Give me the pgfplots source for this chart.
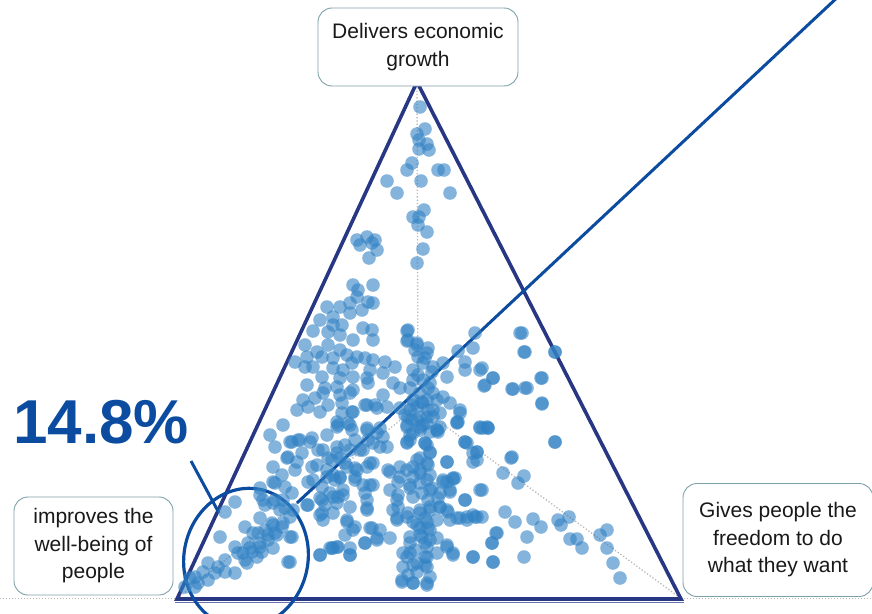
\documentclass[border=0pt]{standalone}
\usepackage{pgfplots}
\pgfplotsset{compat=1.18}
\usepackage{fontspec}
\setmainfont{Liberation Sans}
\definecolor{dotc}{RGB}{50,130,196}
\definecolor{tric}{RGB}{40,55,132}
\definecolor{callc}{RGB}{12,76,160}
\definecolor{boxc}{RGB}{125,160,170}
\definecolor{txtc}{RGB}{25,25,25}

% point positions (x right, y down)
\pgfplotstableread{
x y
420 107
425 129
417 134
419 140
427 144
429 150
419 149
412 163
407 170
438 170
444 170
387 181
421 181
397 193
450 193
424 210
413 217
419 217
418 225
427 232
357 240
367 237
375 240
372 243
360 245
377 250
369 258
423 249
417 263
353 285
358 290
373 285
357 297
350 303
368 302
373 303
327 307
340 307
350 313
362 310
320 320
333 317
333 325
342 325
363 328
372 330
313 331
328 332
340 335
353 340
373 340
408 330
408 340
417 343
305 345
328 345
340 350
317 352
322 357
347 355
357 357
365 358
373 360
295 362
307 357
333 358
352 363
305 367
313 367
333 368
343 370
370 370
385 362
395 367
383 373
322 377
340 378
353 377
367 378
307 385
325 388
337 387
353 390
368 383
393 383
323 393
340 395
350 393
383 395
400 388
303 400
315 398
328 405
342 403
365 405
375 405
387 407
297 410
308 407
320 412
353 412
400 408
283 425
337 422
348 423
408 417
407 331
407 341
417 345
428 348
427 353
418 357
413 370
423 363
433 367
443 363
458 351
473 348
475 333
465 362
465 370
447 377
480 370
493 378
485 385
513 389
525 388
542 378
542 403
522 333
525 352
555 352
443 397
450 403
460 410
458 422
480 428
488 428
465 442
477 452
512 457
555 442
437 430
413 380
423 380
430 383
420 393
413 400
427 400
433 393
417 407
428 410
410 410
405 415
420 417
433 417
407 427
423 425
430 432
413 433
407 442
425 443
440 427
415 350
425 358
432 372
418 375
410 388
428 388
437 400
422 402
412 420
420 430
270 435
275 447
292 442
300 440
312 438
327 435
338 425
288 457
302 453
318 450
332 460
273 467
282 475
295 470
312 467
327 470
275 483
285 487
292 493
308 482
322 487
335 480
260 495
265 505
275 500
285 508
307 505
322 500
338 497
235 502
225 512
260 518
245 527
272 523
282 527
290 517
322 513
333 513
220 537
258 533
268 535
275 533
292 537
235 547
248 543
260 543
238 553
252 552
262 552
245 560
225 560
208 563
218 567
203 572
215 573
225 572
235 573
195 577
208 580
198 583
190 578
195 587
185 587
288 562
320 555
332 548
338 547
337 427
350 425
367 428
377 433
380 447
368 440
360 450
345 445
337 453
345 463
355 468
370 463
333 475
340 478
355 480
370 485
365 493
343 495
333 497
350 507
367 508
347 520
355 527
372 528
380 530
345 535
365 543
377 538
390 538
333 548
350 548
350 555
407 425
427 423
437 430
410 435
407 443
427 445
430 452
417 460
427 463
420 470
413 477
430 475
390 472
400 467
398 482
390 490
410 488
420 483
430 490
440 493
447 482
453 478
450 492
398 507
407 517
420 513
430 507
440 507
447 510
450 520
460 518
467 520
477 517
397 520
417 525
427 522
430 530
420 535
410 543
425 543
437 538
447 545
410 553
427 557
437 553
453 555
417 563
403 567
427 567
408 575
417 572
430 577
402 582
413 583
427 585
447 462
443 482
453 479
465 500
480 490
473 515
473 557
493 562
492 543
497 533
465 442
473 453
477 460
457 423
480 427
487 427
520 333
524 352
555 352
482 368
493 378
484 386
512 389
527 388
541 378
542 404
483 428
488 428
555 442
511 458
503 473
524 476
518 483
482 490
482 517
505 512
515 522
533 519
541 527
558 520
561 525
569 517
496 533
492 543
527 537
570 539
577 539
582 548
600 535
607 530
607 548
613 563
620 578
493 562
524 557
342 413
352 412
367 405
377 408
290 442
298 440
310 442
352 430
355 440
367 430
380 428
383 437
387 447
373 443
363 450
350 450
337 447
323 450
317 465
328 458
340 458
347 467
357 470
367 467
373 463
287 458
297 462
273 482
260 488
313 480
327 477
340 477
355 477
363 485
373 485
343 490
330 493
320 498
308 505
325 505
337 503
367 500
367 510
320 515
323 520
347 522
353 530
370 528
365 543
377 540
320 555
330 548
337 547
350 555
290 562
253 533
265 530
273 525
283 523
293 510
280 510
273 503
283 500
263 500
290 537
277 535
268 540
260 547
250 548
243 553
257 557
247 563
273 548
413 405
423 403
433 410
440 413
427 417
417 420
420 427
438 432
410 440
425 443
430 453
420 458
428 465
413 467
420 473
407 470
400 477
388 470
398 495
410 485
427 480
432 488
422 493
413 497
428 500
438 498
420 510
430 510
408 513
397 518
413 522
425 518
437 520
420 528
428 528
410 537
422 537
430 540
427 547
415 550
407 557
425 557
413 565
425 565
402 580
413 583
427 583
397 500
393 510
447 462
443 480
455 478
450 490
440 507
448 512
457 518
467 517
475 517
465 500
473 462
477 452
467 443
460 413
457 422
447 547
453 553
473 557
403 553
}\dots

\begin{document}
\begin{tikzpicture}
\begin{axis}[
  width=872pt, height=613pt, scale only axis,
  xmin=0, xmax=872, ymin=0, ymax=613,
  y dir=reverse, hide axis,
]
% bottom guide line
\draw[gray!55, dotted, line width=1pt] (axis cs:0,598) -- (axis cs:872,598);
% inner dotted guides
\draw[gray!55, dotted, line width=1.3pt] (axis cs:417,84) -- (axis cs:418,406);
\draw[gray!55, dotted, line width=1.3pt] (axis cs:418,406) -- (axis cs:679,597);
\draw[gray!55, dotted, line width=1.3pt] (axis cs:418,406) -- (axis cs:179,597);

\addplot[only marks, mark=*, mark size=6.8pt,
  mark options={fill=dotc, draw opacity=0, fill opacity=0.6}] table[x=x, y=y] {\dots};

% triangle
\draw[tric, line width=3.6pt, line join=miter] (axis cs:177,599) -- (axis cs:417,82) -- (axis cs:681,599) -- cycle;
\draw[tric!70, line width=1pt] (axis cs:175,602) -- (axis cs:684,602);

% call-out
\draw[callc, line width=3.2pt, rotate around={-12:(axis cs:246,558)}]
  (axis cs:246,558) ellipse [x radius=62pt, y radius=70pt];
\draw[callc, line width=3pt] (axis cs:297,503) -- (axis cs:841,-6);
\draw[callc, line width=3pt] (axis cs:191,461) -- (axis cs:219,513);
\node[callc, font=\fontsize{62}{62}\selectfont\bfseries, anchor=base west, inner sep=0pt]
  at (axis cs:13,443) {14.8\%};

% corner labels
\tikzset{lab/.style={draw=boxc, line width=0.9pt, rounded corners=14pt, fill=white,
  align=center, text=txtc, inner sep=0pt, font=\fontsize{21}{27.5}\selectfont}}
\node[lab, minimum width=200pt, minimum height=78pt] at (axis cs:418,47)
  {Delivers economic\\growth};
\node[lab, minimum width=159pt, minimum height=98pt] at (axis cs:93.5,546)
  {improves the\\well-being of\\people};
\node[lab, minimum width=190pt, minimum height=113pt] at (axis cs:778,540)
  {Gives people the\\freedom to do\\what they want};
\end{axis}
\pgfresetboundingbox
\path (current axis.south west) rectangle (current axis.north east);
\end{tikzpicture}
\end{document}
